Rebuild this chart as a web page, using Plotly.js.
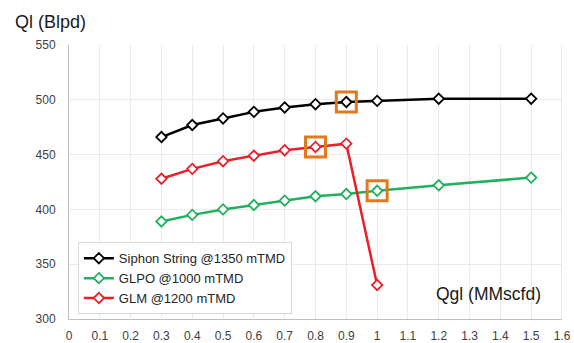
<!DOCTYPE html>
<html><head><meta charset="utf-8">
<script src="https://cdn.plot.ly/plotly-3.0.1.min.js"></script>
<style>body{margin:0;background:#fff}#chart{width:574px;height:343px}</style>
</head><body><div id="chart"></div>
<script>
const xSiphon = [0.3,0.4,0.5,0.6,0.7,0.8,0.9,1.0,1.2,1.5];
const ySiphon = [466,477,483,489,493,496,498,499,501,501];
const xGLPO = [0.3,0.4,0.5,0.6,0.7,0.8,0.9,1.0,1.2,1.5];
const yGLPO = [389,395,400,404,408,412,414,417,422,429];
const xGLM = [0.3,0.4,0.5,0.6,0.7,0.8,0.9,1.0];
const yGLM = [428,437,444,449,454,457,460,331];
const names = ['Siphon String @1350 mTMD','GLPO @1000 mTMD','GLM @1200 mTMD'];
const xTicks = [0,0.1,0.2,0.3,0.4,0.5,0.6,0.7,0.8,0.9,1,1.1,1.2,1.3,1.4,1.5,1.6];
const yTicks = [300,350,400,450,500,550];
// highlighted points (index into each series)
const hlSiphon = 6, hlGLM = 5, hlGLPO = 7;

function series(x,y,name,color){
  return {x:x,y:y,name:name,type:'scatter',mode:'lines+markers',
    line:{color:color,width:2.5},
    marker:{symbol:'diamond',size:8,color:'white',line:{color:color,width:1.8}}};
}
const data = [
  series(xSiphon,ySiphon,names[0],'#000000'),
  series(xGLPO,yGLPO,names[1],'#21B05E'),
  series(xGLM,yGLM,names[2],'#E8202A'),
  {x:[xSiphon[hlSiphon],xGLM[hlGLM],xGLPO[hlGLPO]],
   y:[ySiphon[hlSiphon],yGLM[hlGLM],yGLPO[hlGLPO]],
   type:'scatter',mode:'markers',showlegend:false,
   marker:{symbol:'square-open',size:20,color:'#E07A1F',line:{color:'#E07A1F',width:3}}}
];
const layout = {
  width:574,height:343,
  margin:{l:69,r:12,t:45,b:24},
  paper_bgcolor:'#fff',plot_bgcolor:'#fff',
  font:{family:'Liberation Sans, Arial, sans-serif',color:'#404040',size:12},
  showlegend:true,
  legend:{x:0.018,y:0.28,xanchor:'left',yanchor:'top',bgcolor:'#fff',
    bordercolor:'#d9d9d9',borderwidth:1,font:{size:13,color:'#262626'},
    tracegroupgap:0,itemwidth:30},
  xaxis:{range:[0,1.6],tickvals:xTicks,ticktext:xTicks.map(String),
    showgrid:true,gridcolor:'#ebebeb',gridwidth:1,zeroline:false,
    showline:true,linecolor:'#bfbfbf',linewidth:1,mirror:false,
    ticks:'outside',ticklen:6,tickcolor:'rgba(0,0,0,0)',tickfont:{size:12,color:'#404040'}},
  yaxis:{range:[300,550],tickvals:yTicks,
    showgrid:true,gridcolor:'#ebebeb',gridwidth:1,zeroline:false,
    showline:true,linecolor:'#bfbfbf',linewidth:1,
    ticks:'outside',ticklen:10,tickcolor:'rgba(0,0,0,0)',tickfont:{size:12,color:'#404040'}},
  shapes:[{type:'line',xref:'x',yref:'paper',x0:1.6,x1:1.6,y0:0,y1:1,line:{color:'#d9d9d9',width:1}}],
  annotations:[
    {text:'Ql (Blpd)',xref:'paper',yref:'paper',x:-0.114,y:1.084,xanchor:'left',yanchor:'middle',
     showarrow:false,font:{size:18,color:'#1a1a1a',family:'Liberation Sans, Arial, sans-serif'}},
    {text:'Qgl (MMscfd)',xref:'x',yref:'y',x:1.538,y:323,xanchor:'right',yanchor:'middle',
     showarrow:false,font:{size:17.5,color:'#1a1a1a',family:'Liberation Sans, Arial, sans-serif'}}
  ]
};
Plotly.newPlot('chart',data,layout,{displayModeBar:false,staticPlot:true});
</script></body></html>
